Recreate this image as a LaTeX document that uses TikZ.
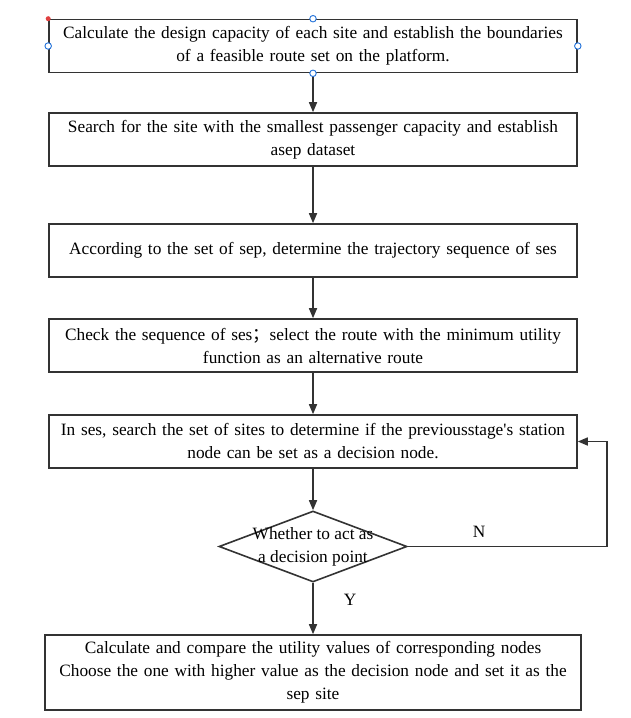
\documentclass[tikz,border=0pt]{standalone}
\usepackage{fontspec}
\setmainfont{Liberation Serif}
\newfontfamily\cjk{Noto Sans CJK SC}
\usetikzlibrary{shapes.geometric,arrows.meta}
\definecolor{ln}{HTML}{333333}
\definecolor{hb}{HTML}{1E6FD9}
\definecolor{hr}{HTML}{E04040}
\begin{document}
\begin{tikzpicture}[x=1pt,y=-1pt,
  txt/.style={font=\fontsize{17.3}{23}\selectfont},
  box/.style={draw=ln,line width=1.6pt,minimum height=53pt,text width=#1,align=center,inner sep=0pt,txt},
  box/.default=520pt,
  arr/.style={draw=ln,line width=1.6pt,-{Triangle[length=10pt,width=8pt]}},
  handle/.style={circle,draw=hb,fill=white,line width=0.9pt,inner sep=0pt,minimum size=6.5pt}]
\useasboundingbox (0,0) rectangle (631,718);
\node[box,minimum width=528pt] (b1) at (313,46) {Calculate the design capacity of each site and establish the boundaries\\of a feasible route set on the platform.};
\node[box,minimum width=528pt] (b2) at (313,139.5) {Search for the site with the smallest passenger capacity and establish\\asep dataset};
\node[box,minimum width=528pt] (b3) at (313,250.5) {According to the set of sep, determine the trajectory sequence of ses};
\node[box,minimum width=528pt] (b4) at (313,345.5) {Check the sequence of ses{\cjk ；}select the route with the minimum utility\\function as an alternative route};
\node[box,minimum width=528pt] (b5) at (313,441.5) {In ses, search the set of sites to determine if the previousstage\textquotesingle s station\\node can be set as a decision node.};
\node[diamond,draw=ln,line width=1.6pt,minimum width=188pt,minimum height=71pt,inner sep=0pt,aspect=2.65] (d) at (313,546.5) {};
\node[txt,align=center,inner sep=0pt] (dt) at (313,546.5) {Whether to act as\\a decision point};
\node[box=530pt,minimum width=536pt,minimum height=75pt] (b6) at (313,672.5) {Calculate and compare the utility values of corresponding nodes\\Choose the one with higher value as the decision node and set it as the\\sep site};
\draw[arr] (b1) -- (b2);
\draw[arr] (b2) -- (b3);
\draw[arr] (b3) -- (b4);
\draw[arr] (b4) -- (b5);
\draw[arr] (b5) -- (d);
\draw[arr] (d) -- (b6);
\coordinate (c1) at (607,546.5);
\coordinate (c2) at (607,441.5);
\draw[arr] (d.east) -- (c1) -- (c2) -- (b5.east);
\node[txt] (n) at (479,532) {N};
\node[txt] (y) at (350,600) {Y};
\node[handle] (h1) at (b1.north) {};
\node[handle] (h2) at (b1.south) {};
\node[handle] (h3) at (b1.west) {};
\node[handle] (h4) at (b1.east) {};
\node[circle,fill=hr,inner sep=0pt,minimum size=5pt] (h5) at (b1.north west) {};
\end{tikzpicture}
\end{document}
